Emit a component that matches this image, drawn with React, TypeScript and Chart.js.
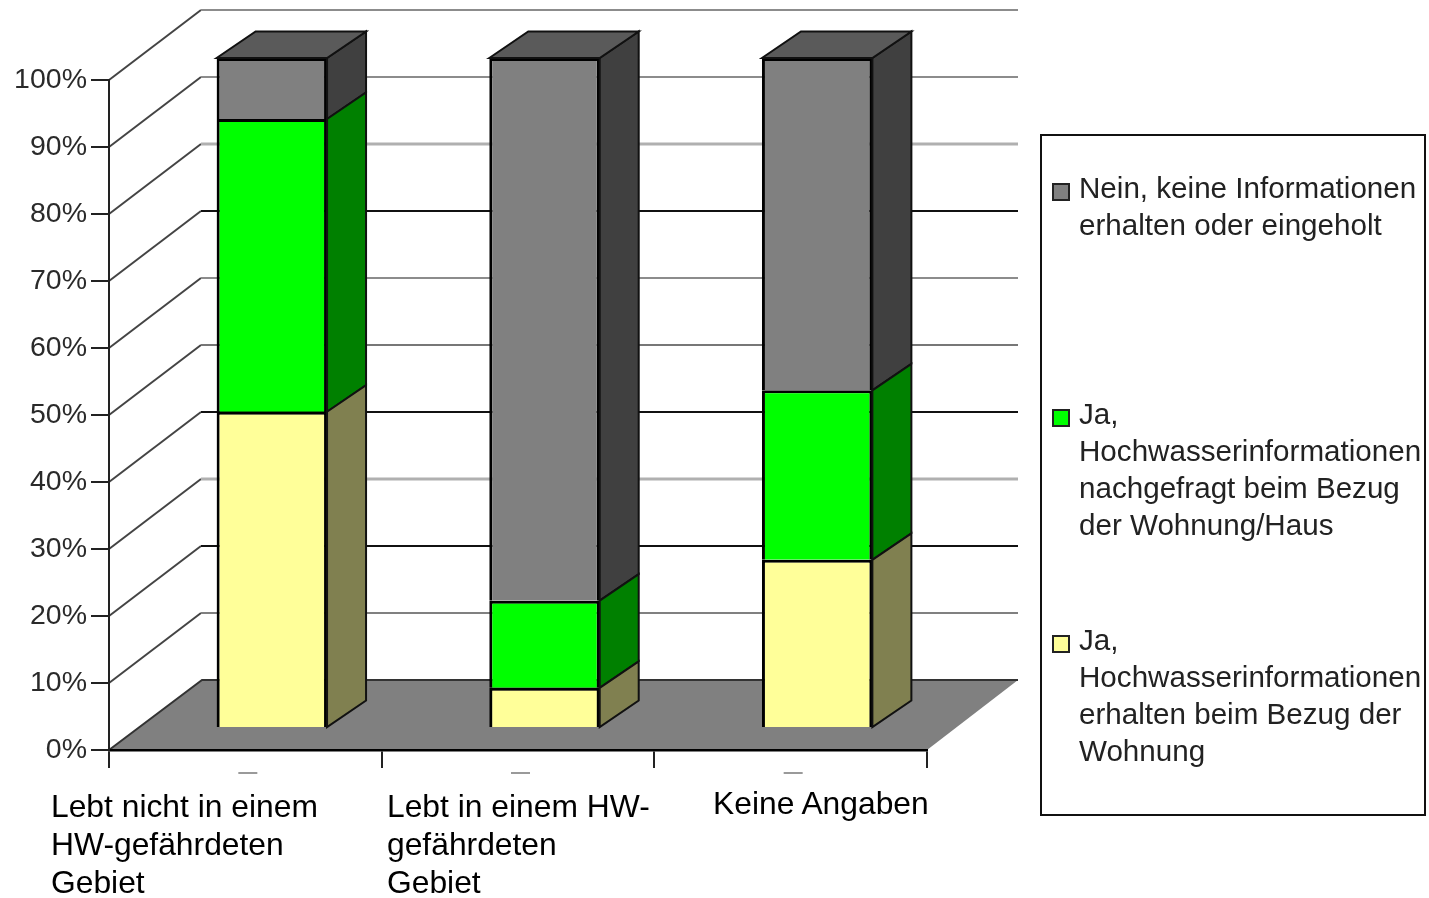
import React, { useEffect, useRef } from "react";
import { Chart, registerables } from "chart.js";

Chart.register(...registerables);

const categories = [
  ["Lebt nicht in einem", "HW-gefährdeten", "Gebiet"],
  ["Lebt in einem HW-", "gefährdeten", "Gebiet"],
  ["Keine Angaben"],
];
const erhalten = [47.2, 6, 25.1];
const nachgefragt = [43.7, 13, 25.3];
const keine = [9.1, 81, 49.6];

const legendErhalten = ["Ja,", "Hochwasserinformationen", "erhalten beim Bezug der", "Wohnung"];
const legendNachgefragt = ["Ja,", "Hochwasserinformationen", "nachgefragt beim Bezug", "der Wohnung/Haus"];
const legendKeine = ["Nein, keine Informationen", "erhalten oder eingeholt"];

const FONT = '"Liberation Sans", Arial, sans-serif';
const WALL = { dx: 92, dy: -70 };
const BAR_SHIFT = { dx: 26.5, dy: -22 };
const BAR_DEPTH = { dx: 39, dy: -26.5 };
const wallLineColor: Record<number, [string, number]> = {
  100: ["#8c8c8c", 2],
  90: ["#8c8c8c", 2],
  80: ["#b0b0b0", 3],
  70: ["#111111", 2],
  60: ["#8c8c8c", 2],
  50: ["#777777", 2],
  40: ["#111111", 2],
  30: ["#b0b0b0", 3],
  20: ["#111111", 2],
  10: ["#808080", 2],
};

const scene3d = {
  id: "scene3d",
  beforeDraw(chart: any) {
    const { ctx, chartArea: a, scales } = chart;
    const y0 = scales.y.getPixelForValue(0);
    ctx.save();
    ctx.fillStyle = "#808080";
    ctx.beginPath();
    ctx.moveTo(a.left, y0);
    ctx.lineTo(a.right, y0);
    ctx.lineTo(a.right + WALL.dx - 1, y0 + WALL.dy);
    ctx.lineTo(a.left + WALL.dx + 1, y0 + WALL.dy);
    ctx.closePath();
    ctx.fill();
    ctx.strokeStyle = "#333";
    ctx.lineWidth = 2;
    ctx.beginPath();
    ctx.moveTo(a.left, y0);
    ctx.lineTo(a.left + WALL.dx + 1, y0 + WALL.dy);
    ctx.lineTo(a.right + WALL.dx - 1, y0 + WALL.dy);
    ctx.stroke();
    for (const t of scales.y.ticks) {
      if (t.value === 0) continue;
      const y = scales.y.getPixelForValue(t.value);
      const [color, width] = wallLineColor[t.value] ?? ["#888", 2];
      ctx.strokeStyle = "#444";
      ctx.lineWidth = 2;
      ctx.beginPath();
      ctx.moveTo(a.left, y);
      ctx.lineTo(a.left + WALL.dx, y + WALL.dy);
      ctx.stroke();
      ctx.strokeStyle = color;
      ctx.lineWidth = width;
      ctx.beginPath();
      ctx.moveTo(a.left + WALL.dx, y + WALL.dy);
      ctx.lineTo(a.right + WALL.dx - 1, y + WALL.dy);
      ctx.stroke();
    }
    ctx.fillStyle = "#9a9a9a";
    categories.forEach((_, i) => {
      ctx.fillRect(scales.x.getPixelForValue(i) - 7, 772, 19, 2);
    });
    ctx.restore();
  },
  beforeDatasetDraw(chart: any) {
    chart.ctx.save();
    chart.ctx.translate(BAR_SHIFT.dx, BAR_SHIFT.dy);
  },
  afterDatasetDraw(chart: any, args: any) {
    const { ctx } = chart;
    const ds = chart.data.datasets[args.index];
    const last = args.index === chart.data.datasets.length - 1;
    for (const el of args.meta.data) {
      const half = el.width / 2;
      const l = el.x - half;
      const r = el.x + half;
      const top = el.y;
      const bottom = el.base;
      ctx.strokeStyle = "#111";
      ctx.lineWidth = 2;
      ctx.fillStyle = ds.sideColor;
      ctx.beginPath();
      ctx.moveTo(r, top);
      ctx.lineTo(r + BAR_DEPTH.dx, top + BAR_DEPTH.dy);
      ctx.lineTo(r + BAR_DEPTH.dx, bottom + BAR_DEPTH.dy);
      ctx.lineTo(r, bottom);
      ctx.closePath();
      ctx.fill();
      ctx.stroke();
      if (last) {
        ctx.fillStyle = ds.topColor;
        ctx.beginPath();
        ctx.moveTo(l, top);
        ctx.lineTo(l + BAR_DEPTH.dx, top + BAR_DEPTH.dy);
        ctx.lineTo(r + BAR_DEPTH.dx, top + BAR_DEPTH.dy);
        ctx.lineTo(r, top);
        ctx.closePath();
        ctx.fill();
        ctx.stroke();
      }
    }
    ctx.restore();
  },
};

const legendEntries = [
  { lines: legendKeine, color: "#808080", swatchTop: 183, textTop: 169 },
  { lines: legendNachgefragt, color: "#00ff00", swatchTop: 409, textTop: 395 },
  { lines: legendErhalten, color: "#ffff99", swatchTop: 635, textTop: 621 },
];
const labelPositions = [
  { left: 51, top: 787 },
  { left: 387, top: 787 },
  { left: 713, top: 784 },
];

export default function App() {
  const ref = useRef<HTMLCanvasElement>(null);
  useEffect(() => {
    const chart = new Chart(ref.current!, {
      type: "bar",
      data: {
        labels: categories.map((c) => c.join(" ")),
        datasets: [
          { label: legendErhalten.join(" "), data: erhalten, backgroundColor: "#ffff99", sideColor: "#808050" },
          { label: legendNachgefragt.join(" "), data: nachgefragt, backgroundColor: "#00ff00", sideColor: "#008000" },
          { label: legendKeine.join(" "), data: keine, backgroundColor: "#808080", sideColor: "#404040", topColor: "#5a5a5a" },
        ].map((d) => ({ ...d, borderColor: "#000", borderWidth: 3, categoryPercentage: 1, barPercentage: 0.405 })) as any,
      },
      plugins: [scene3d],
      options: {
        animation: false,
        responsive: false,
        layout: { padding: { left: 0, top: 80, right: 502, bottom: 0 } },
        plugins: { legend: { display: false }, title: { display: false }, tooltip: { enabled: false } },
        scales: {
          x: {
            stacked: true,
            afterFit: (s: any) => { s.height = 148; },
            ticks: { display: false },
            border: { color: "#000", width: 2.5 },
            grid: { drawOnChartArea: false, drawTicks: true, tickLength: 18, color: "#222", lineWidth: 2, offset: true },
          },
          y: {
            stacked: true,
            min: 0,
            max: 100,
            afterFit: (s: any) => { s.width = 109; },
            ticks: {
              stepSize: 10,
              padding: 4,
              color: "#2a2a2a",
              font: { family: FONT, size: 28.5 },
              callback: (v: any) => v + "%",
            },
            border: { color: "#222", width: 2 },
            grid: { drawOnChartArea: false, drawTicks: true, tickLength: 18, color: "#222", lineWidth: 2 },
          },
        },
      } as any,
    });
    return () => chart.destroy();
  }, []);

  return (
    <div style={{ position: "absolute", left: 0, top: 0, width: 1429, height: 898, overflow: "hidden", background: "#fff", fontFamily: FONT }}>
      <canvas ref={ref} width={1429} height={898} style={{ position: "absolute", left: 0, top: 0, width: 1429, height: 898, filter: "blur(0.5px)" }} />
      {categories.map((lines, i) => (
        <div key={i} style={{ position: "absolute", left: labelPositions[i].left, top: labelPositions[i].top, fontSize: 31.8, lineHeight: "38px", color: "#000", whiteSpace: "nowrap" }}>
          {lines.map((l) => <div key={l}>{l}</div>)}
        </div>
      ))}
      <div style={{ position: "absolute", left: 1039.5, top: 133.5, width: 382, height: 678, border: "2px solid #111", filter: "blur(0.5px)" }} />
      {legendEntries.map((e) => (
        <React.Fragment key={e.lines.join()}>
          <div style={{ position: "absolute", left: 1052, top: e.swatchTop, width: 14, height: 14, background: e.color, border: "2px solid #222", filter: "blur(0.4px)" }} />
          <div style={{ position: "absolute", left: 1079, top: e.textTop, fontSize: 29.6, lineHeight: "37px", color: "#222", whiteSpace: "nowrap", filter: "blur(0.6px)" }}>
            {e.lines.map((l) => <div key={l}>{l}</div>)}
          </div>
        </React.Fragment>
      ))}
    </div>
  );
}
